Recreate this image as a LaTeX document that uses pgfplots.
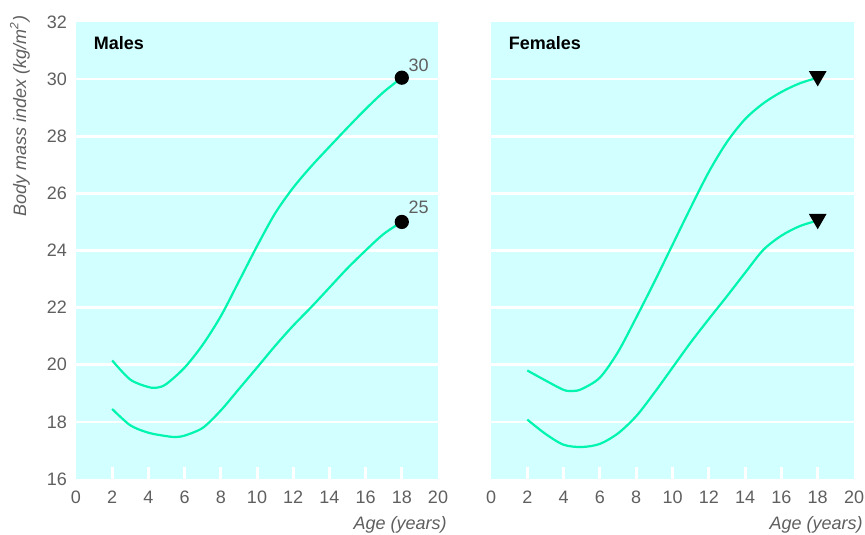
\documentclass[border=0pt]{standalone}
\usepackage{pgfplots}
\pgfplotsset{compat=1.18}
\usepackage{fontspec}
\setmainfont{Liberation Sans}
\definecolor{bgcyan}{RGB}{210,255,255}
\definecolor{curve}{RGB}{0,245,175}
\definecolor{labgray}{RGB}{95,95,95}
\pgfplotsset{
  panel/.style={
    scale only axis,
    width=181pt, height=228.5pt,
    xmin=0, xmax=20, ymin=16, ymax=32,
    axis background/.style={fill=bgcyan},
    axis line style={draw=none},
    xtick={0,2,...,20}, ytick={16,18,...,32},
    major tick length=0pt,
    xtick pos=left, ytick pos=left,
    extra x ticks={2,4,...,18}, extra x tick labels={},
    extra x tick style={major tick length=6pt, tick style={white, line width=1.5pt}},
    extra y ticks={18,20,...,30}, extra y tick labels={},
    extra y tick style={ymajorgrids=true, major grid style={white, line width=1.3pt}},
    tick label style={font=\fontsize{9}{10}\selectfont, text=labgray},
    /pgf/number format/assume math mode=true,
    xticklabel style={yshift=-2.5pt},
    yticklabel style={xshift=-1pt},
    every axis plot/.append style={curve, line width=1.1pt, smooth},
    clip=false,
  }
}
\begin{document}
\begin{tikzpicture}
\path[use as bounding box] (-38pt,-27.5pt) rectangle (394.5pt,239.5pt);
\begin{axis}[panel, at={(0pt,0pt)}, anchor=south west]
\addplot[no marks] coordinates {(2,20.15)(3,19.48)(4,19.22)(4.5,19.2)(5,19.33)(6,19.9)(7,20.7)(8,21.7)(9,22.92)(10,24.15)(11,25.3)(12,26.2)(13,26.95)(14,27.63)(15,28.3)(16,28.95)(17,29.55)(18,30.05)};
\addplot[no marks] coordinates {(2,18.45)(3,17.88)(4,17.62)(5,17.5)(5.5,17.47)(6,17.52)(7,17.79)(8,18.4)(9,19.15)(10,19.9)(11,20.66)(12,21.37)(13,22.02)(14,22.7)(15,23.38)(16,24.0)(17,24.58)(18,25.0)};
\addplot[only marks, mark=*, mark size=3pt, black] coordinates {(18,30.05)(18,25.0)};
\node[anchor=west, font=\fontsize{9}{10}\selectfont\bfseries] at (axis cs:0.6,31.25) {Males};
\node[anchor=west, font=\fontsize{9}{10}\selectfont, text=labgray, inner sep=0pt] at (axis cs:18.35,30.5) {30};
\node[anchor=west, font=\fontsize{9}{10}\selectfont, text=labgray, inner sep=0pt] at (axis cs:18.35,25.5) {25};
\node[anchor=east, font=\fontsize{9}{10}\selectfont\itshape, text=labgray, inner sep=0pt] at ([xshift=4.5pt,yshift=-23pt]rel axis cs:1,0) {Age (years)};
\end{axis}
\node[rotate=90, anchor=east, font=\fontsize{9}{10}\selectfont\itshape, text=labgray, inner sep=0pt] at (-28pt,232pt) {Body mass index (kg/m\textsuperscript{2})};
\begin{axis}[panel, at={(207.5pt,0pt)}, anchor=south west, width=181.5pt, yticklabels={}]
\addplot[no marks] coordinates {(2,19.8)(3,19.45)(4,19.12)(4.5,19.08)(5,19.15)(6,19.55)(7,20.45)(8,21.65)(9,22.9)(10,24.2)(11,25.5)(12,26.75)(13,27.8)(14,28.6)(15,29.15)(16,29.55)(17,29.85)(18,30.05)};
\addplot[no marks] coordinates {(2,18.08)(3,17.58)(4,17.2)(5,17.12)(6,17.23)(7,17.6)(8,18.2)(9,19.02)(10,19.9)(11,20.78)(12,21.6)(13,22.4)(14,23.22)(15,24.02)(16,24.52)(17,24.85)(18,25.05)};
\addplot[only marks, mark=triangle*, mark options={rotate=180}, mark size=4pt, black] coordinates {(18,30.1)(18,25.1)};
\node[anchor=west, font=\fontsize{9}{10}\selectfont\bfseries] at (axis cs:0.6,31.25) {Females};
\node[anchor=east, font=\fontsize{9}{10}\selectfont\itshape, text=labgray, inner sep=0pt] at ([xshift=4.5pt,yshift=-23pt]rel axis cs:1,0) {Age (years)};
\end{axis}
\end{tikzpicture}
\end{document}
